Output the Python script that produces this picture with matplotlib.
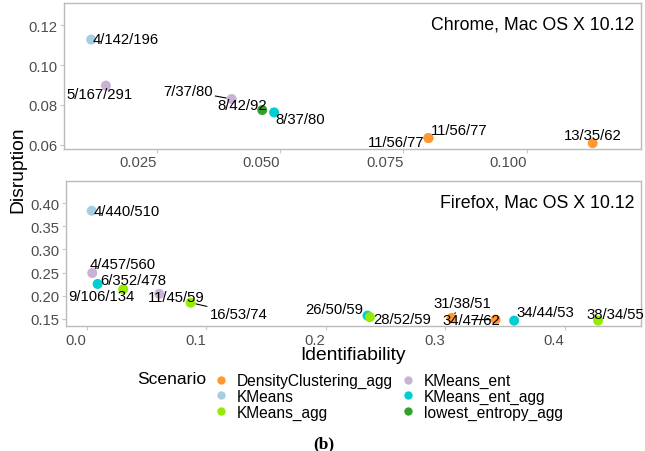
import matplotlib
matplotlib.use("Agg")
import matplotlib.pyplot as plt
from matplotlib.lines import Line2D

plt.rcParams['font.family'] = ['Liberation Sans', 'DejaVu Sans']

# ---------------- data ----------------
scenarios = ["DensityClustering_agg", "KMeans", "KMeans_agg",
             "KMeans_ent", "KMeans_ent_agg", "lowest_entropy_agg"]
colors = ["#FF9933", "#A6CEE3", "#96EB00", "#C9B2D6", "#00CED1", "#33A02C"]

chrome_scenario = ["KMeans", "KMeans_ent", "KMeans_ent", "lowest_entropy_agg",
                   "KMeans_ent_agg", "DensityClustering_agg",
                   "DensityClustering_agg", "DensityClustering_agg"]
chrome_ident = [0.0117, 0.0147, 0.0402, 0.0464, 0.0488, 0.0801, 0.0801, 0.1134]
chrome_disr = [0.1127, 0.0897, 0.0830, 0.0775, 0.0763, 0.0635, 0.0635, 0.0609]
chrome_labels = ["4/142/196", "5/167/291", "7/37/80", "8/42/92", "8/37/80",
                 "11/56/77", "11/56/77", "13/35/62"]

firefox_scenario = ["KMeans", "KMeans_ent", "KMeans_ent_agg", "KMeans_agg",
                    "KMeans_ent", "KMeans_agg", "KMeans_ent_agg", "KMeans_agg",
                    "DensityClustering_agg", "DensityClustering_agg",
                    "KMeans_ent_agg", "KMeans_agg"]
firefox_ident = [0.0042, 0.0047, 0.0092, 0.0306, 0.0608, 0.0870, 0.2351, 0.2371,
                 0.3054, 0.3423, 0.3578, 0.4281]
firefox_disr = [0.3834, 0.2490, 0.2254, 0.2140, 0.2040, 0.1850, 0.1570, 0.1537,
                0.1520, 0.1485, 0.1463, 0.1463]
firefox_labels = ["4/440/510", "4/457/560", "6/352/478", "9/106/134", "11/45/59",
                  "16/53/74", "26/50/59", "28/52/59", "31/38/51", "34/47/62",
                  "34/44/53", "38/34/55"]

chrome_xticks = [0.025, 0.050, 0.075, 0.100]
chrome_xticklabels = ["0.025", "0.050", "0.075", "0.100"]
chrome_yticks = [0.06, 0.08, 0.10, 0.12]
chrome_yticklabels = ["0.06", "0.08", "0.10", "0.12"]
firefox_xticks = [0.0, 0.1, 0.2, 0.3, 0.4]
firefox_xticklabels = ["0.0", "0.1", "0.2", "0.3", "0.4"]
firefox_yticks = [0.15, 0.20, 0.25, 0.30, 0.35, 0.40]
firefox_yticklabels = ["0.15", "0.20", "0.25", "0.30", "0.35", "0.40"]

# label placement (pixel offsets from the point, style only)
chrome_offsets = [(35, 1), (-6, -8), (-44, 8), (-20, 5), (26, -7),
                  (-32, -4), (31, 8), (0, 8)]
chrome_segment = [False, False, True, False, False, False, False, False]
firefox_offsets = [(35, 0), (30, 9), (36, 4), (-22, -7), (17, -3), (48, -11),
                   (-33, 7), (32, -2), (11, 15), (-24, 0), (31, 9), (17, 7)]
firefox_segment = [False, False, False, False, False, True,
                   False, False, True, True, False, False]

pal = dict(zip(scenarios, colors))

W, H = 645, 452
fig = plt.figure(figsize=(W / 100, H / 100), dpi=100)

ax1 = fig.add_axes([64 / W, 1 - 150 / H, 577 / W, 146 / H])
ax2 = fig.add_axes([65.5 / W, 1 - 327.3 / H, 575.5 / W, 145 / H])

TICKC = "#4D4D4D"
FRAMEC = "#BBBBBB"


def draw(ax, xs, ys, scs, labs, offs, segs, title, xlim, ylim,
         xt, xtl, yt, ytl):
    for x, y, s in zip(xs, ys, scs):
        ax.scatter([x], [y], s=52, color=pal[s], edgecolors='none', zorder=3)
    for x, y, lab, (dx, dy), seg in zip(xs, ys, labs, offs, segs):
        kw = {}
        if seg:
            kw['arrowprops'] = dict(arrowstyle='-', color='black', lw=0.8,
                                    shrinkA=0, shrinkB=4)
        ax.annotate(lab, xy=(x, y), xytext=(dx, dy), textcoords='offset pixels',
                    ha='center', va='center', fontsize=10.7, color='black',
                    zorder=4, **kw)
    ax.set_xlim(*xlim)
    ax.set_ylim(*ylim)
    ax.set_xticks(xt)
    ax.set_xticklabels(xtl, ha='right')
    ax.set_yticks(yt)
    ax.set_yticklabels(ytl)
    ax.tick_params(axis='both', length=3, width=0.8, color="#C8C8C8",
                   labelcolor=TICKC, labelsize=10.7, pad=1.5)
    for sp in ax.spines.values():
        sp.set_color(FRAMEC)
        sp.set_linewidth(1.0)
    ax.annotate(title, xy=(1, 1), xycoords='axes fraction', xytext=(-6.5, -21),
                textcoords='offset pixels', ha='right', va='center',
                fontsize=12.8, color='black')


draw(ax1, chrome_ident, chrome_disr, chrome_scenario, chrome_labels,
     chrome_offsets, chrome_segment, "Chrome, Mac OS X 10.12",
     (0.0062, 0.1232), (0.058, 0.131),
     chrome_xticks, chrome_xticklabels, chrome_yticks, chrome_yticklabels)
draw(ax2, firefox_ident, firefox_disr, firefox_scenario, firefox_labels,
     firefox_offsets, firefox_segment, "Firefox, Mac OS X 10.12",
     (-0.0177, 0.464), (0.134, 0.447),
     firefox_xticks, firefox_xticklabels, firefox_yticks, firefox_yticklabels)

fig.text(18 / W, 1 - 170 / H, "Disruption", rotation=90, ha='center',
         va='center', fontsize=13.9, color='black')
fig.text(353 / W, 1 - 355 / H, "Identifiability", ha='center', va='center',
         fontsize=13.9, color='black')

# legend
handles = [Line2D([], [], marker='o', linestyle='none', markersize=6,
                  markerfacecolor=c, markeredgecolor='none') for c in colors]
fig.text(136.7 / W, 1 - 380 / H, "Scenario", ha='left', va='center',
         fontsize=12.6, color='black')
fig.legend(handles, scenarios, ncol=2, loc='upper left',
           bbox_to_anchor=(213 / W, 1 - 374 / H), frameon=False,
           fontsize=11.2, handlelength=1.0, handletextpad=0.52,
           columnspacing=0.48, labelspacing=0.05, borderpad=0,
           borderaxespad=0)

fig.text(324 / W, 1 - 444 / H, "(b)", ha='center', va='center',
         fontsize=12.5, fontweight='bold', family='Liberation Serif')

fig.savefig("out.png", dpi=100)
